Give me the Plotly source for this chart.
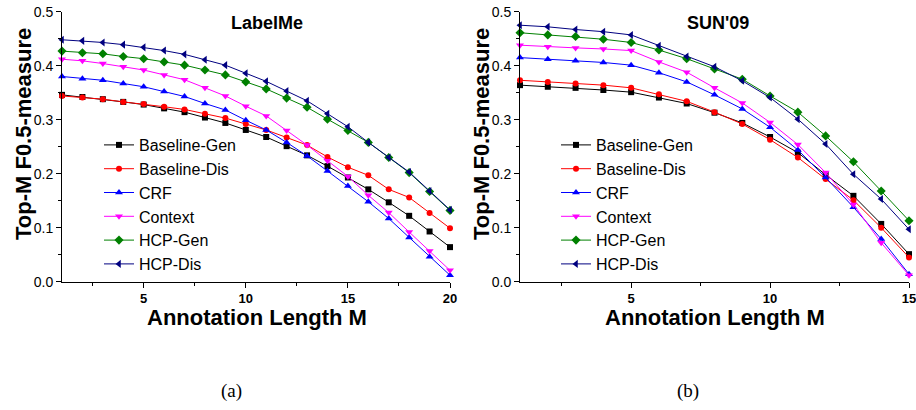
import plotly.graph_objects as go

# ---------------- data ----------------
M_labelme = list(range(1, 21))
M_sun = list(range(1, 16))

series_names = ["Baseline-Gen", "Baseline-Dis", "CRF", "Context", "HCP-Gen", "HCP-Dis"]

labelme_baseline_gen = [0.346, 0.342, 0.338, 0.333, 0.328, 0.321, 0.314, 0.304, 0.294, 0.281,
                        0.268, 0.251, 0.234, 0.214, 0.193, 0.171, 0.147, 0.122, 0.093, 0.064]
labelme_baseline_dis = [0.344, 0.341, 0.338, 0.333, 0.329, 0.324, 0.319, 0.311, 0.303, 0.292,
                        0.281, 0.267, 0.253, 0.231, 0.212, 0.197, 0.171, 0.156, 0.127, 0.099]
labelme_crf = [0.380, 0.376, 0.373, 0.367, 0.361, 0.352, 0.343, 0.330, 0.318, 0.299,
               0.281, 0.258, 0.233, 0.205, 0.177, 0.148, 0.117, 0.082, 0.046, 0.012]
labelme_context = [0.412, 0.409, 0.404, 0.398, 0.392, 0.383, 0.374, 0.359, 0.344, 0.325,
                   0.307, 0.280, 0.253, 0.224, 0.195, 0.160, 0.128, 0.092, 0.057, 0.021]
labelme_hcp_gen = [0.427, 0.424, 0.422, 0.417, 0.413, 0.407, 0.401, 0.392, 0.383, 0.370,
                   0.357, 0.340, 0.323, 0.301, 0.280, 0.258, 0.230, 0.202, 0.167, 0.132]
labelme_hcp_dis = [0.448, 0.446, 0.443, 0.439, 0.434, 0.428, 0.421, 0.411, 0.401, 0.386,
                   0.371, 0.353, 0.335, 0.311, 0.287, 0.258, 0.230, 0.203, 0.168, 0.133]

sun_baseline_gen = [0.364, 0.361, 0.359, 0.355, 0.351, 0.341, 0.330, 0.313, 0.294, 0.268,
                    0.239, 0.198, 0.159, 0.107, 0.051]
sun_baseline_dis = [0.373, 0.370, 0.367, 0.364, 0.359, 0.347, 0.334, 0.314, 0.292, 0.263,
                    0.230, 0.190, 0.151, 0.100, 0.045]
sun_crf = [0.415, 0.412, 0.409, 0.406, 0.401, 0.387, 0.370, 0.346, 0.320, 0.286,
           0.244, 0.193, 0.138, 0.079, 0.014]
sun_context = [0.438, 0.435, 0.433, 0.431, 0.428, 0.407, 0.388, 0.359, 0.331, 0.295,
               0.254, 0.202, 0.143, 0.072, 0.012]
sun_hcp_gen = [0.461, 0.457, 0.454, 0.449, 0.443, 0.429, 0.413, 0.394, 0.375, 0.344,
               0.314, 0.270, 0.222, 0.168, 0.113]
sun_hcp_dis = [0.475, 0.472, 0.467, 0.463, 0.457, 0.437, 0.417, 0.398, 0.372, 0.341,
               0.301, 0.255, 0.199, 0.153, 0.097]

x_tickvals_labelme = [5, 10, 15, 20]
x_tickvals_sun = [5, 10, 15]
y_tickvals = [0.0, 0.1, 0.2, 0.3, 0.4, 0.5]

# ---------------- styles ----------------
colors = ["#000000", "#FF0000", "#0000FF", "#FF00FF", "#008000", "#000080"]
symbols = ["square", "circle", "triangle-up", "triangle-down", "diamond", "triangle-left"]
sizes = [6, 6, 7, 7, 7, 7]

labelme = [labelme_baseline_gen, labelme_baseline_dis, labelme_crf,
           labelme_context, labelme_hcp_gen, labelme_hcp_dis]
sun = [sun_baseline_gen, sun_baseline_dis, sun_crf, sun_context, sun_hcp_gen, sun_hcp_dis]

W, H = 916, 410
SANS = "Liberation Sans, Arial, sans-serif"


def px(x):
    return x / W


def py(y):
    return 1 - y / H


fig = go.Figure()

for i, name in enumerate(series_names):
    fig.add_trace(go.Scatter(
        x=M_labelme, y=labelme[i], name=name, mode="lines+markers",
        line=dict(color=colors[i], width=1),
        marker=dict(symbol=symbols[i], size=sizes[i], color=colors[i]),
        xaxis="x", yaxis="y", legend="legend", cliponaxis=False))
for i, name in enumerate(series_names):
    fig.add_trace(go.Scatter(
        x=M_sun, y=sun[i], name=name, mode="lines+markers",
        line=dict(color=colors[i], width=1),
        marker=dict(symbol=symbols[i], size=sizes[i], color=colors[i]),
        xaxis="x2", yaxis="y2", legend="legend2", cliponaxis=False))

xcommon = dict(showgrid=False, zeroline=False, showline=True, linecolor="black", linewidth=1,
               ticks="outside", ticklen=5, tickwidth=1, tickcolor="black",
               tickfont=dict(family=SANS, size=13, color="black", weight="bold"),
               ticklabeloverflow="allow", automargin=False)
ycommon = dict(showgrid=False, zeroline=False, showline=True, linecolor="black", linewidth=1,
               ticks="outside", ticklen=5, tickwidth=1, tickcolor="black",
               tickvals=y_tickvals, tickformat=".1f", range=[0, 0.5],
               tickfont=dict(family=SANS, size=14, color="black"),
               minor=dict(ticks="outside", ticklen=3, tickwidth=1, tickcolor="black", dtick=0.05),
               ticklabeloverflow="allow", automargin=False)

ydom = [py(281.7), py(11.7)]
legfont = dict(family=SANS, size=16, color="black")
fig.update_layout(
    width=W, height=H,
    margin=dict(l=0, r=0, t=0, b=0),
    paper_bgcolor="white", plot_bgcolor="white",
    xaxis=dict(domain=[px(62), px(450)], range=[1, 20], tickvals=x_tickvals_labelme,
               minor=dict(ticks="outside", ticklen=3, tickwidth=1, tickcolor="black",
                          tick0=0, dtick=2.5), anchor="y", **xcommon),
    yaxis=dict(domain=ydom, anchor="x", **ycommon),
    xaxis2=dict(domain=[px(520), px(909)], range=[1, 15], tickvals=x_tickvals_sun,
                minor=dict(ticks="outside", ticklen=3, tickwidth=1, tickcolor="black",
                           tick0=0, dtick=2.5), anchor="y2", **xcommon),
    yaxis2=dict(domain=ydom, anchor="x2", **ycommon),
    legend=dict(x=px(99), y=py(128), xanchor="left", yanchor="top",
                bgcolor="rgba(0,0,0,0)", borderwidth=0, tracegroupgap=0, font=legfont),
    legend2=dict(x=px(556), y=py(128), xanchor="left", yanchor="top",
                 bgcolor="rgba(0,0,0,0)", borderwidth=0, tracegroupgap=0, font=legfont),
    showlegend=True,
)

ann = []
ann.append(dict(text="LabelMe", x=px(267), y=py(22.5), font=dict(family=SANS, size=18, weight="bold")))
ann.append(dict(text="SUN'09", x=px(718), y=py(22.5), font=dict(family=SANS, size=18, weight="bold")))
ann.append(dict(text="Annotation Length M", x=px(257), y=py(317), font=dict(family=SANS, size=22, weight="bold")))
ann.append(dict(text="Annotation Length M", x=px(715), y=py(317), font=dict(family=SANS, size=22, weight="bold")))
ann.append(dict(text="Top-M F0.5-measure", x=px(23), y=py(134), textangle=-90,
                font=dict(family=SANS, size=22, weight="bold")))
ann.append(dict(text="Top-M F0.5-measure", x=px(481), y=py(134), textangle=-90,
                font=dict(family=SANS, size=22, weight="bold")))
ann.append(dict(text="(a)", x=px(231), y=py(391), font=dict(family="Liberation Serif, serif", size=19)))
ann.append(dict(text="(b)", x=px(688), y=py(391), font=dict(family="Liberation Serif, serif", size=19)))
for a in ann:
    a.update(xref="paper", yref="paper", showarrow=False, xanchor="center", yanchor="middle")
    a["font"]["color"] = "black"
fig.update_layout(annotations=ann)

# remove the browser's default 8px page margin so the 916x410 figure fills the window
fig.write_html("out.html",
               config={"displayModeBar": False, "staticPlot": True},
               post_script="document.body.style.margin='0';document.body.style.overflow='hidden';")
